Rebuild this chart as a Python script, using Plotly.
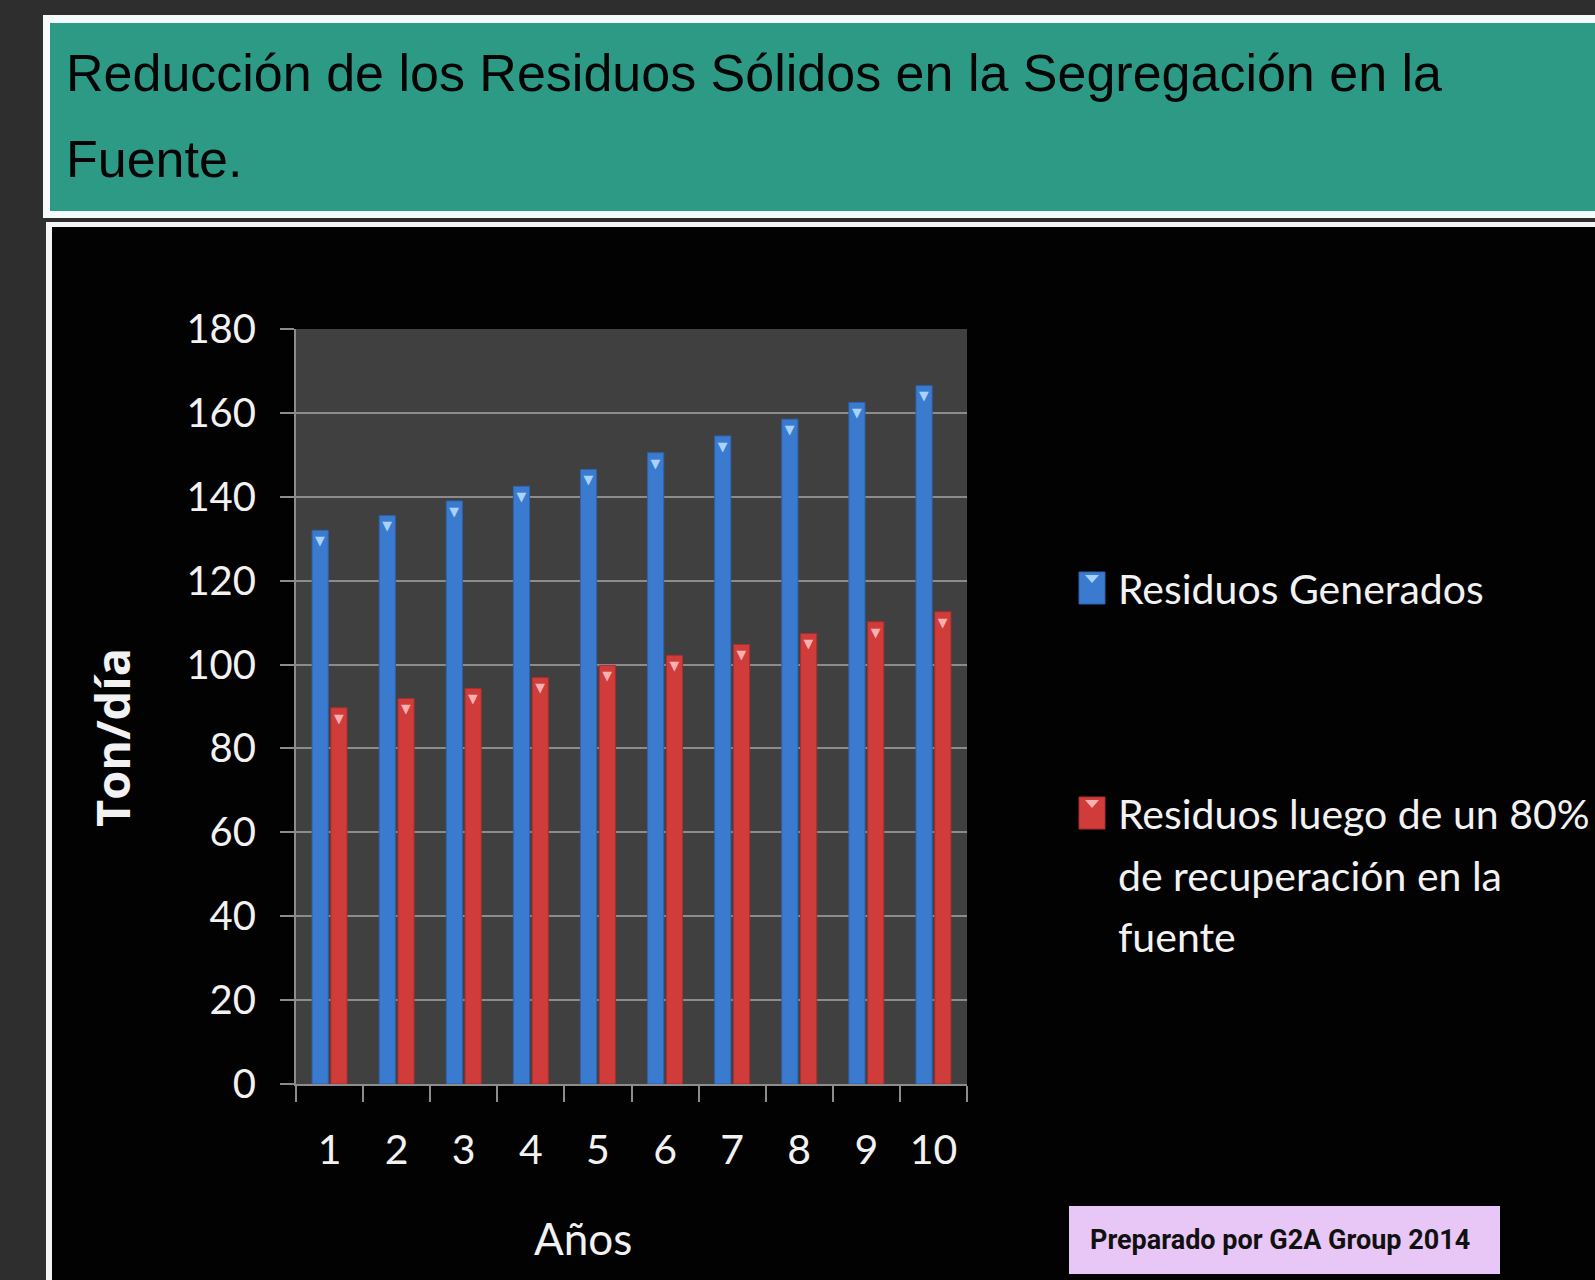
import plotly.graph_objects as go

# ---------------- data ----------------
years = ["1", "2", "3", "4", "5", "6", "7", "8", "9", "10"]
residuos_generados = [132, 135.5, 139, 142.5, 146.5, 150.5, 154.5, 158.5, 162.5, 166.5]
residuos_recuperacion = [89.7, 91.9, 94.3, 96.9, 99.8, 102.2, 104.8, 107.4, 110.2, 112.6]
y_ticks = [0, 20, 40, 60, 80, 100, 120, 140, 160, 180]

legend_blue_lines = ["Residuos Generados"]
legend_red_lines = ["Residuos luego de un 80%", "de recuperación en la", "fuente"]
title_lines = ["Reducción de los Residuos Sólidos en la Segregación en la", "Fuente."]
y_title = "Ton/día"
x_title = "Años"
credit = "Preparado por G2A Group 2014"

# ---------------- layout geometry (pixels) ----------------
W, H = 1595, 1280
L, R, T, B = 296, 967, 329, 1084


def px(x):
    return (x - L) / (R - L)


def py(y):
    return (B - y) / (B - T)


SANS = "Liberation Sans, Arial, sans-serif"
CAL = "Lato, Carlito, Calibri, sans-serif"
BLUE = "#3b7bcf"
RED = "#cf3c3a"
GRID = "#8c8c8c"
WHITE_TXT = "#f2f2f2"

fig = go.Figure()
fig.add_trace(go.Bar(
    x=years, y=residuos_generados, name=legend_blue_lines[0],
    marker=dict(color=BLUE, line=dict(color="#2d62ad", width=1)),
    text=["▼"] * len(years), textposition="inside", insidetextanchor="end",
    textangle=0, textfont=dict(family="DejaVu Sans", size=15, color="#a9d2fb"),
    showlegend=False,
))
fig.add_trace(go.Bar(
    x=years, y=residuos_recuperacion, name=" ".join(legend_red_lines),
    marker=dict(color=RED, line=dict(color="#a82f2d", width=1)),
    text=["▼"] * len(years), textposition="inside", insidetextanchor="end",
    textangle=0, textfont=dict(family="DejaVu Sans", size=15, color="#fbb0b0"),
    showlegend=False,
))

shapes = [
    # page panels
    dict(type="rect", xref="paper", yref="paper", layer="below",
         x0=px(43), x1=px(1610), y0=py(218), y1=py(15),
         fillcolor="#f4fbfa", line=dict(width=0)),
    dict(type="rect", xref="paper", yref="paper", layer="below",
         x0=px(50), x1=px(1610), y0=py(211), y1=py(23),
         fillcolor="#2d9a86", line=dict(width=0)),
    dict(type="rect", xref="paper", yref="paper", layer="below",
         x0=px(46), x1=px(1610), y0=py(1300), y1=py(222),
         fillcolor="#f4f4f4", line=dict(width=0)),
    dict(type="rect", xref="paper", yref="paper", layer="below",
         x0=px(52), x1=px(1610), y0=py(1300), y1=py(227),
         fillcolor="#020202", line=dict(width=0)),
    # plot area background
    dict(type="rect", xref="paper", yref="paper", layer="below",
         x0=0, x1=1, y0=0, y1=1, fillcolor="#404040", line=dict(width=0)),
    # legend symbols
    dict(type="rect", xref="paper", yref="paper",
         x0=px(1079), x1=px(1105), y0=py(604), y1=py(572),
         fillcolor=BLUE, line=dict(color="#2d62ad", width=1)),
    dict(type="path", xref="paper", yref="paper",
         path=f"M {px(1085)},{py(575)} L {px(1099)},{py(575)} L {px(1092)},{py(583)} Z",
         fillcolor="#a9d2fb", line=dict(width=0)),
    dict(type="rect", xref="paper", yref="paper",
         x0=px(1079), x1=px(1105), y0=py(829), y1=py(797),
         fillcolor=RED, line=dict(color="#a82f2d", width=1)),
    dict(type="path", xref="paper", yref="paper",
         path=f"M {px(1085)},{py(800)} L {px(1099)},{py(800)} L {px(1092)},{py(808)} Z",
         fillcolor="#fbb0b0", line=dict(width=0)),
    # credit box
    dict(type="rect", xref="paper", yref="paper",
         x0=px(1069), x1=px(1500), y0=py(1274), y1=py(1206),
         fillcolor="#e8c6f6", line=dict(width=0)),
]

annotations = [
    dict(text=title_lines[0], x=px(64), y=py(73), xanchor="left", yanchor="middle",
         font=dict(family=SANS, size=52, color="#050505")),
    dict(text=title_lines[1], x=px(64), y=py(159), xanchor="left", yanchor="middle",
         font=dict(family=SANS, size=52, color="#050505")),
    dict(text=f"<b>{y_title}</b>", x=px(112), y=py(738), textangle=-90,
         xanchor="center", yanchor="middle",
         font=dict(family="Open Sans, DejaVu Sans, sans-serif", size=47, color=WHITE_TXT)),
    dict(text=x_title, x=px(583), y=py(1238), xanchor="center", yanchor="middle",
         font=dict(family=CAL, size=44, color=WHITE_TXT)),
    dict(text=legend_blue_lines[0], x=px(1116), y=py(588), xanchor="left", yanchor="middle",
         font=dict(family=CAL, size=41, color=WHITE_TXT)),
    dict(text=f"<b>{credit}</b>", x=px(1088), y=py(1240), xanchor="left", yanchor="middle",
         font=dict(family="Roboto, Liberation Sans, sans-serif", size=27, color="#111111")),
]
for line, ycen in zip(legend_red_lines, [813, 875, 936]):
    annotations.append(dict(text=line, x=px(1116), y=py(ycen), xanchor="left",
                            yanchor="middle",
                            font=dict(family=CAL, size=41, color=WHITE_TXT)))
for a in annotations:
    a.update(xref="paper", yref="paper", showarrow=False)

fig.update_layout(
    width=W, height=H, autosize=False,
    margin=dict(l=L, r=W - R, t=T, b=H - B, pad=0),
    paper_bgcolor="#2e2e2e", plot_bgcolor="rgba(0,0,0,0)",
    barmode="group", bargap=0.44, bargroupgap=0.14,
    showlegend=False,
    shapes=shapes, annotations=annotations,
    xaxis=dict(
        type="category", tickson="boundaries", ticks="outside", ticklen=16,
        tickwidth=2, tickcolor=GRID, showline=True, linecolor=GRID, linewidth=2,
        showgrid=False, ticklabelstandoff=29,
        tickfont=dict(family=CAL, size=41, color=WHITE_TXT),
    ),
    yaxis=dict(
        range=[0, 180], tickvals=y_ticks, ticks="outside", ticklen=14,
        tickwidth=2, tickcolor=GRID, showline=True, linecolor=GRID, linewidth=2,
        showgrid=True, gridcolor=GRID, gridwidth=2, zeroline=False,
        ticklabelstandoff=16,
        tickfont=dict(family=CAL, size=40, color=WHITE_TXT),
    ),
)

fig.write_html(
    "out.html",
    config={"displayModeBar": False},
    post_script="document.body.style.margin='0';document.body.style.background='#2e2e2e';",
)
